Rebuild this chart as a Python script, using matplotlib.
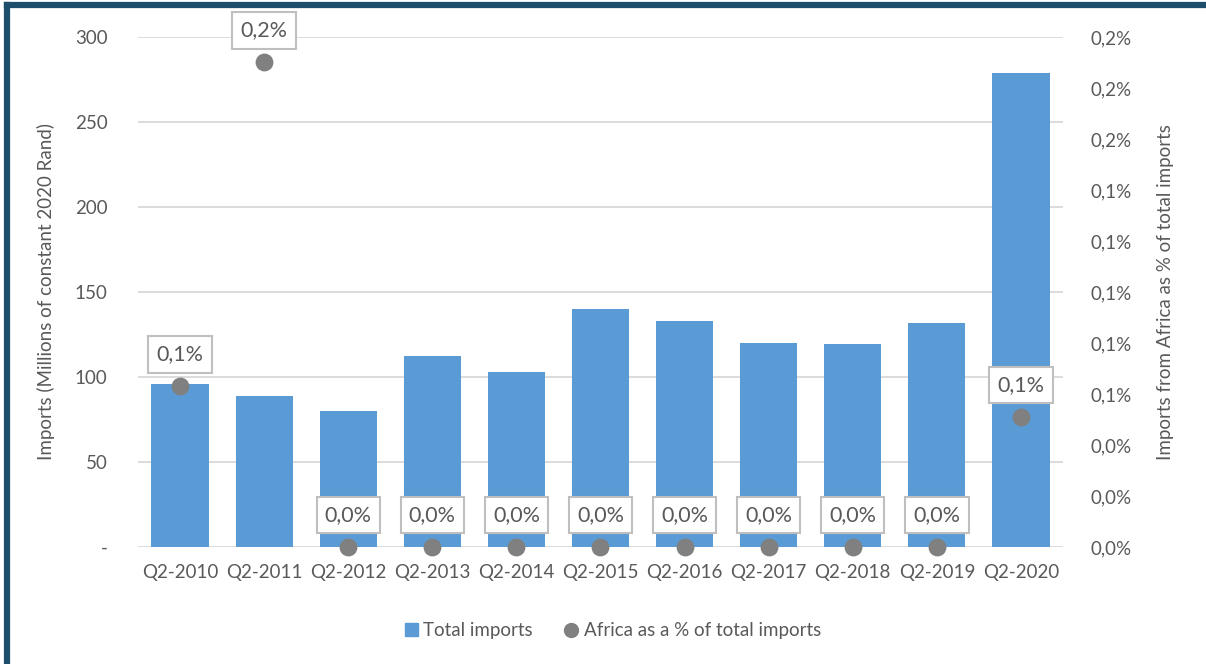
import matplotlib
matplotlib.use('Agg')
from matplotlib import pyplot as plt
from matplotlib.lines import Line2D
from matplotlib.patches import Patch
from matplotlib.ticker import FuncFormatter, MultipleLocator

# quarterly imports, millions of constant 2020 Rand
quarters = ['Q2-2010', 'Q2-2011', 'Q2-2012', 'Q2-2013', 'Q2-2014', 'Q2-2015',
            'Q2-2016', 'Q2-2017', 'Q2-2018', 'Q2-2019', 'Q2-2020']
total_imports = [96, 89, 80, 112.4, 103, 140, 133, 120, 119.4, 131.8, 278.8]
# share of imports coming from Africa (fraction)
africa_share = [0.00063, 0.0019, 0, 0, 0, 0, 0, 0, 0, 0, 0.00051]

BLUE = '#5B9BD5'
GREY = '#808080'
TXT = '#595959'
GRID = '#D9D9D9'

plt.rcParams['font.family'] = ['Lato', 'DejaVu Sans']


def pct(v, pos=None):
    return ('%.1f%%' % (v * 100)).replace('.', ',')


def main():
    fig = plt.figure(figsize=(12.06, 6.64), dpi=100)
    ax = fig.add_axes([0.1144, 0.1762, 0.767, 0.7681])
    x = list(range(len(quarters)))

    ax.bar(x, total_imports, width=0.68, color=BLUE, zorder=2)
    ax.set_xlim(-0.5, len(quarters) - 0.5)
    ax.set_ylim(0, 300)
    ax.yaxis.set_major_locator(MultipleLocator(50))
    ax.yaxis.set_major_formatter(FuncFormatter(lambda v, p: '-' if v == 0 else '%d' % v))
    ax.set_xticks(x)
    ax.set_xticklabels(quarters)
    ax.grid(axis='y', color=GRID, lw=1.3, zorder=0)
    ax.set_axisbelow(True)
    for s in ax.spines.values():
        s.set_visible(False)
    ax.tick_params(length=0, labelsize=13.5, colors=TXT, pad=12)
    ax.tick_params(axis='y', pad=22)
    ax.set_ylabel('Imports (Millions of constant 2020 Rand)', fontsize=13.5,
                  color=TXT, labelpad=14)

    ax2 = ax.twinx()
    ax2.set_ylim(0, 0.002)
    ax2.yaxis.set_major_locator(MultipleLocator(0.0002))
    ax2.yaxis.set_major_formatter(FuncFormatter(pct))
    for s in ax2.spines.values():
        s.set_visible(False)
    ax2.tick_params(length=0, labelsize=13.5, colors=TXT, pad=20)
    ax2.set_ylabel('Imports from Africa as % of total imports', fontsize=13.5,
                   color=TXT, labelpad=18)
    ax2.scatter(x, africa_share, s=140, color=GREY, zorder=4, clip_on=False)

    for xi, v in zip(x, africa_share):
        ax2.annotate(pct(v), (xi, v), xytext=(0, 32), textcoords='offset pixels',
                     ha='center', va='center', fontsize=15.5, color=TXT, zorder=5,
                     annotation_clip=False,
                     bbox=dict(boxstyle='square,pad=0.38', fc='white',
                               ec='#BFBFBF', lw=1.5))

    handles = [Patch(color=BLUE, label='Total imports'),
               Line2D([], [], marker='o', ls='', color=GREY, markersize=10,
                      label='Africa as a % of total imports')]
    fig.legend(handles=handles, loc='center', bbox_to_anchor=(0.508, 0.05),
               ncol=2, frameon=False, fontsize=13.5, labelcolor=TXT,
               handlelength=0.7, handletextpad=0.3, columnspacing=1.7)

    # frame edge along the left and top
    fig.add_artist(Line2D([0.0062, 0.0062], [0, 0.9925], color='#1D4E6B', lw=4.5,
                          transform=fig.transFigure, solid_capstyle='projecting'))
    fig.add_artist(Line2D([0.0062, 1], [0.9925, 0.9925], color='#1D4E6B', lw=4.5,
                          transform=fig.transFigure, solid_capstyle='projecting'))

    fig.savefig('out.png', dpi=100)


if __name__ == '__main__':
    main()
